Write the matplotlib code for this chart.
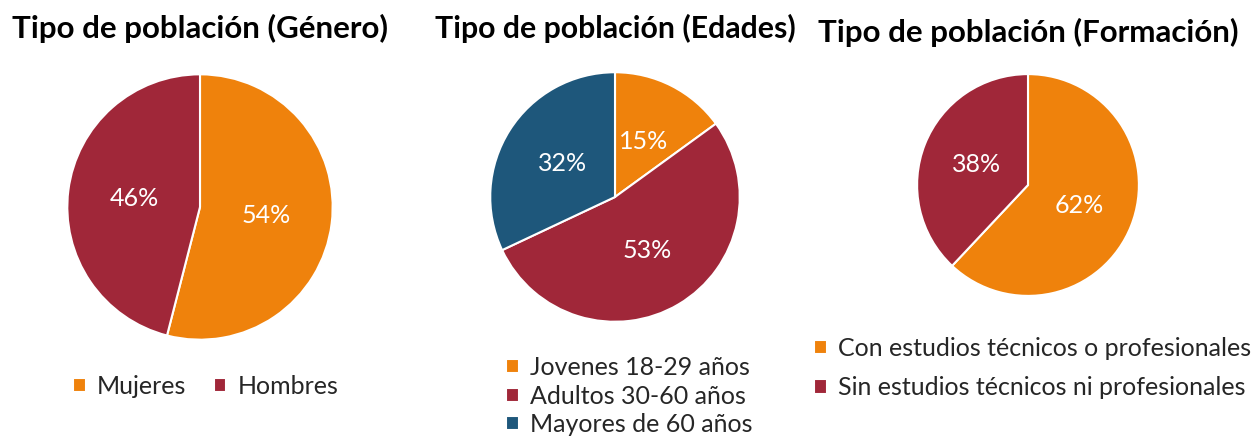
import matplotlib
matplotlib.use("Agg")
import matplotlib.pyplot as plt

plt.rcParams['font.family'] = ['Lato', 'DejaVu Sans']

# datos
genero_labels = ["Mujeres", "Hombres"]
genero_vals = [54, 46]

edad_labels = ["Jovenes 18-29 años", "Adultos 30-60 años", "Mayores de 60 años"]
edad_vals = [15, 53, 32]

formacion_labels = ["Con estudios técnicos o profesionales",
                    "Sin estudios técnicos ni profesionales"]
formacion_vals = [62, 38]

titles = ["Tipo de población (Género)", "Tipo de población (Edades)",
          "Tipo de población (Formación)"]

naranja = "#EF820C"
rojo = "#A02739"
azul = "#1E577B"

W, H = 1256, 436
fig = plt.figure(figsize=(W / 100, H / 100), dpi=100)


def pie_axes(cx, cy, r):
    ax = fig.add_axes([(cx - r) / W, 1 - (cy + r) / H, 2 * r / W, 2 * r / H])
    return ax


def draw_pie(ax, vals, colors):
    wedges, _, autot = ax.pie(vals, colors=colors, startangle=90, counterclock=False,
                              autopct="%1.0f%%", pctdistance=0.5, radius=1,
                              wedgeprops=dict(edgecolor="white", linewidth=1.5))
    for t in autot:
        t.set_color("white")
        t.set_fontsize(18)
    ax.set_xlim(-1.01, 1.01)
    ax.set_ylim(-1.01, 1.01)
    ax.axis("off")
    return wedges


ax1 = pie_axes(200, 207, 134)
w1 = draw_pie(ax1, genero_vals, [naranja, rojo])
ax2 = pie_axes(615, 197, 126)
w2 = draw_pie(ax2, edad_vals, [naranja, rojo, azul])
ax3 = pie_axes(1028, 185, 112)
w3 = draw_pie(ax3, formacion_vals, [naranja, rojo])

for x, y, t, fs in zip([200, 615, 1028], [28, 28, 32], titles, [22.5, 21.8, 22.5]):
    fig.text(x / W, 1 - y / H, t, ha="center", va="center", fontsize=fs,
             fontweight="bold", color="black")

leg_kw = dict(frameon=False, fontsize=18, handlelength=0.5, handleheight=0.5,
              handletextpad=0.45, borderpad=0, borderaxespad=0, labelcolor="#262626")

fig.legend(w1, genero_labels, loc="center left", ncol=2, columnspacing=1.1,
           bbox_to_anchor=(73 / W, 1 - 386 / H), **leg_kw)
fig.legend(w2, edad_labels, loc="upper left", labelspacing=0.22,
           bbox_to_anchor=(506 / W, 1 - 356 / H), **leg_kw)
fig.legend(w3, formacion_labels, loc="upper left", labelspacing=0.65,
           bbox_to_anchor=(814 / W, 1 - 337 / H), **leg_kw)

fig.savefig("out.png", dpi=100, facecolor="white")
